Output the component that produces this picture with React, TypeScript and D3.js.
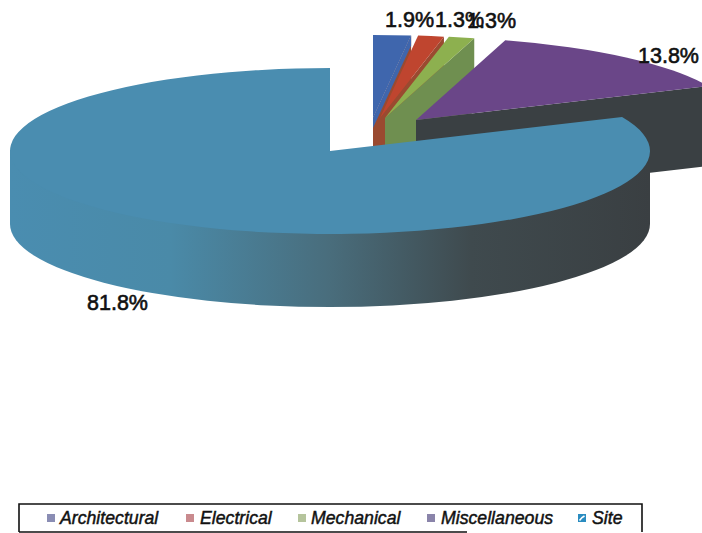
import React from "react";
import * as d3 from "d3";

// Share of project cost by discipline, in percent.
const categories = ["Architectural", "Electrical", "Mechanical", "Miscellaneous", "Site"];
const shares = [1.9, 1.3, 1.3, 13.8, 81.7];
const shareLabels = ["1.9%", "1.3%", "1.3%", "13.8%", "81.8%"];

const topColors = ["#3f66ad", "#bf452f", "#8db04f", "#6a4688", "#4a8db0"];
const cutColors = ["#3f66ad", "#9a4a30", "#6f8f50", "#3a4043", "#3a4043"];
const swatchColors = ["#8a8db4", "#c98a8e", "#b5c49c", "#8a84aa", "#2a8cc0"];

// Pie geometry: ellipse radii, extrusion and each wedge's exploded apex.
const W = 702;
const H = 533;
const RX = 320;
const RY = 83;
const DEPTH = 73;
const MISC_DEPTH = 80;
const ARCH_LIP = 10;
const apexes: [number, number][] = [
  [373, 118],
  [380, 118],
  [385, 118],
  [416, 120],
  [330, 151],
];
const labelSpots: [number, number][] = [
  [385, 27],
  [435, 27],
  [467, 28],
  [638, 63],
  [87, 310],
];
const legendSwatchX = [47, 186, 298, 427, 578];
const legendTextX = [60, 200, 311, 441, 592];

const pieAngles = d3
  .pie<number>()
  .sort(null)
  .startAngle(0)
  .endAngle(2 * Math.PI)(shares);

const wedge = d3.arc<d3.PieArcDatum<number>>().innerRadius(0).outerRadius(RX);

// Point on the elliptical rim for a clockwise-from-north angle.
const rim = (i: number, a: number): [number, number] => [
  apexes[i][0] + RX * Math.sin(a),
  apexes[i][1] - RY * Math.cos(a),
];

// Extruded radial face along the trailing edge of a wedge.
function cutFace(i: number, a: number, depth: number): string {
  const [ax, ay] = apexes[i];
  const [rx, ry] = rim(i, a);
  const p = d3.path();
  p.moveTo(ax, ay);
  p.lineTo(rx, ry);
  p.lineTo(rx, ry + depth);
  p.lineTo(ax, ay + depth);
  p.closePath();
  return p.toString();
}

// Outer wall of the large slice; its upper edge runs under the top face so no seam shows.
function frontWall(i: number): string {
  const [cx, cy] = apexes[i];
  return (
    `M${cx - RX},${cy} L${cx + RX},${cy} ` +
    `L${cx + RX},${cy + DEPTH} A${RX},${RY} 0 0 1 ${cx - RX},${cy + DEPTH} Z`
  );
}

// Outer wall of the Miscellaneous wedge past its trailing edge.
function sideWall(i: number, a: number, depth: number): string {
  const [rx, ry] = rim(i, a);
  const [cx, cy] = apexes[i];
  return (
    `M${rx},${ry} A${RX},${RY} 0 0 1 ${cx + RX},${cy} ` +
    `L${cx + RX},${cy + depth} A${RX},${RY} 0 0 0 ${rx},${ry + depth} Z`
  );
}

const FONT = "'Liberation Sans', Arial, sans-serif";

export default function App() {
  const site = pieAngles[4];
  const misc = pieAngles[3];
  const topTransform = (i: number) =>
    `translate(${apexes[i][0]},${apexes[i][1]}) scale(1,${RY / RX})`;
  return (
    <svg
      width={W}
      height={H}
      viewBox={`0 0 ${W} ${H}`}
      style={{ position: "absolute", left: 0, top: 0, background: "#fff" }}
    >
      <defs>
        <linearGradient id="siteWall" gradientUnits="userSpaceOnUse" x1={10} x2={650} y1={0} y2={0}>
          <stop offset="0" stopColor="#4a8db0" />
          <stop offset="0.25" stopColor="#4a8aa8" />
          <stop offset="0.5" stopColor="#496d7c" />
          <stop offset="0.72" stopColor="#3f4a4e" />
          <stop offset="1" stopColor="#3a3f42" />
        </linearGradient>
      </defs>

      {/* Narrow exploded wedges, back to front */}
      <path d={cutFace(0, pieAngles[0].endAngle, DEPTH)} fill={cutColors[1]} />
      <path d={cutFace(0, pieAngles[0].endAngle, ARCH_LIP)} fill={cutColors[0]} />
      {[0, 1, 2].map((i) => (
        <g key={categories[i]}>
          {i > 0 && <path d={cutFace(i, pieAngles[i].endAngle, DEPTH)} fill={cutColors[i]} />}
          <path d={wedge(pieAngles[i]) ?? ""} fill={topColors[i]} transform={topTransform(i)} />
        </g>
      ))}

      {/* Miscellaneous */}
      <path d={sideWall(3, misc.endAngle, MISC_DEPTH)} fill={cutColors[3]} />
      <path d={cutFace(3, misc.endAngle, MISC_DEPTH)} fill={cutColors[3]} />
      <path d={wedge(misc) ?? ""} fill={topColors[3]} transform={topTransform(3)} />

      {/* Site */}
      <path d={frontWall(4)} fill="url(#siteWall)" />
      <path d={wedge(site) ?? ""} fill={topColors[4]} transform={topTransform(4)} />

      {shareLabels.map((t, i) => (
        <text
          key={i}
          x={labelSpots[i][0]}
          y={labelSpots[i][1]}
          fontFamily={FONT}
          fontSize={21.5}
          fill="#111"
          stroke="#111"
          strokeWidth={0.6}
        >
          {t}
        </text>
      ))}

      {/* Legend frame, with its lower rule stopping short */}
      <path
        d="M19,532 L19,504 L642,504 L642,532 M19,532 L467,532"
        fill="none"
        stroke="#111"
        strokeWidth={1.6}
      />
      {categories.map((c, i) => (
        <g key={c}>
          <rect x={legendSwatchX[i]} y={514} width={8} height={8} fill={swatchColors[i]} />
          {i === 4 && (
            <path
              d={`M${legendSwatchX[i] + 1.5},520.5 L${legendSwatchX[i] + 4},517.5 L${legendSwatchX[i] + 6.5},516`}
              stroke="#fff"
              strokeWidth={1.6}
              fill="none"
            />
          )}
          <text
            x={legendTextX[i]}
            y={524}
            fontFamily={FONT}
            fontSize={17.7}
            fontStyle="italic"
            fill="#111"
            stroke="#111"
            strokeWidth={0.45}
          >
            {c}
          </text>
        </g>
      ))}
    </svg>
  );
}
